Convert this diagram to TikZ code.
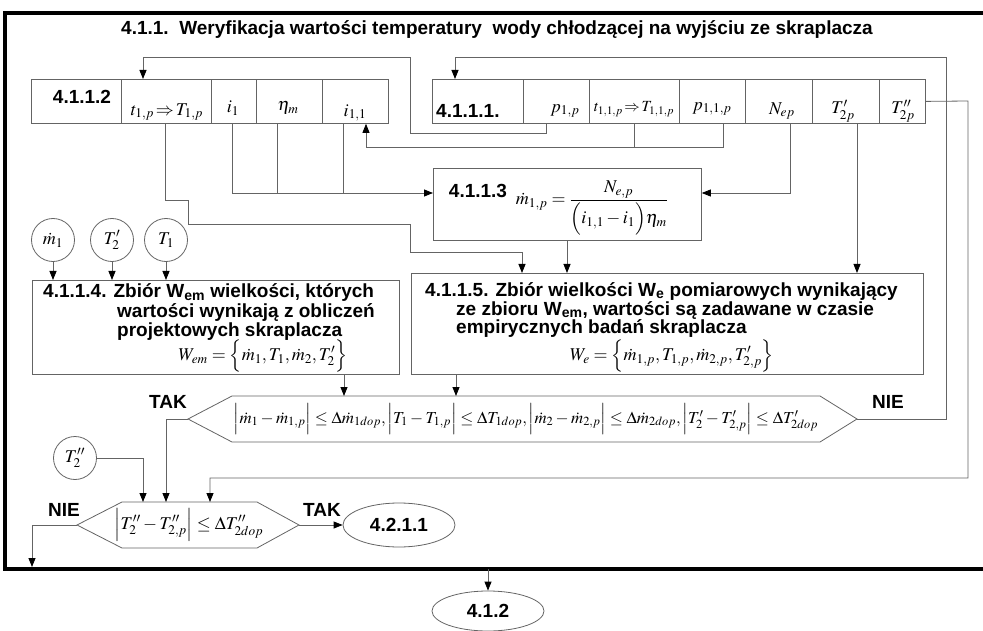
\documentclass[tikz,border=0pt]{standalone}
\usepackage{mathptmx}
\usepackage[no-math]{fontspec}
\setmainfont{Liberation Sans}
\usetikzlibrary{arrows.meta,calc,shapes.geometric}
\definecolor{lncol}{RGB}{100,100,100}
\tikzset{
  ln/.style={draw=lncol, line width=0.8pt},
  arr/.style={ln, -{Triangle[length=9pt,width=7pt,color=black]}},
  cell/.style={ln, anchor=north west, inner sep=0pt, minimum height=44pt},
  bx/.style={ln, anchor=north west, inner sep=0pt},
  lbl/.style={font=\fontsize{19}{21}\selectfont\bfseries, inner sep=0pt},
  txt/.style={font=\fontsize{19}{21}\selectfont\bfseries, inner sep=0pt, anchor=base west},
  mth/.style={font=\fontsize{18}{20}\selectfont, inner sep=0pt},
  circ/.style={ln, circle, minimum size=43pt, inner sep=0pt, font=\fontsize{18}{20}\selectfont},
  ell/.style={ln, ellipse, minimum width=112pt, minimum height=44pt, inner sep=0pt, font=\fontsize{19}{21}\selectfont\bfseries},
}
\begin{document}
\begin{tikzpicture}[x=1pt,y=-1pt]
\useasboundingbox (0,0) rectangle (983,631);
% frame
\draw[line width=3.5pt] (990,13) -- (5,13) -- (5,569) -- (990,569);
\node[lbl] (title) at (497,30) {4.1.1.\ \ Weryfikacja wartości temperatury\ \ wody chłodzącej na wyjściu ze skraplacza};
% box 4.1.1.2
\node[cell, minimum width=90pt] (c21) at (31,79) {};
\node[cell, minimum width=90pt] (c22) at (121,79) {};
\node[cell, minimum width=45pt] (c23) at (211,79) {};
\node[cell, minimum width=66pt] (c24) at (256,79) {};
\node[cell, minimum width=66pt] (c25) at (322,79) {};
\node[lbl] (t2a) at (82,97) {4.1.1.2};
\node[mth] (t2b) at (167,112) {$t_{1,p}\!\Rightarrow\! T_{1,p}$};
\node[mth] (t2c) at (233,108) {$i_1$};
\node[mth] (t2d) at (288,108) {$\eta_m$};
\node[mth] (t2e) at (355,113) {$i_{1,1}$};
% box 4.1.1.1
\node[cell, minimum width=91pt] (c11) at (432,79) {};
\node[cell, minimum width=66pt] (c12) at (523,79) {};
\node[cell, minimum width=90pt] (c13) at (589,79) {};
\node[cell, minimum width=66pt] (c14) at (679,79) {};
\node[cell, minimum width=67pt] (c15) at (745,79) {};
\node[cell, minimum width=67pt] (c16) at (812,79) {};
\node[cell, minimum width=46pt] (c17) at (879,79) {};
\node[lbl, anchor=west] (t1a) at (436,111) {4.1.1.1.};
\node[mth] (t1b) at (565,111) {$p_{1,p}$};
\node[mth, font=\fontsize{15.5}{18}\selectfont] (t1c) at (634,109) {$t_{1,1,p}\!\Rightarrow\! T_{1,1,p}$};
\node[mth] (t1d) at (712,109) {$p_{1,1,p}$};
\node[mth] (t1e) at (782,111) {$N_{ep}$};
\node[mth] (t1f) at (843,111) {$T'_{2p}$};
\node[mth] (t1g) at (903,111) {$T''_{2p}$};
% box 4.1.1.3
\node[bx, minimum width=268pt, minimum height=72pt] (b3) at (433,168) {};
\node[lbl] (t3a) at (478,191) {4.1.1.3};
\node[mth] (t3b) at (592,208) {$\dot m_{1,p}=\displaystyle\frac{N_{e,p}}{\Bigl(i_{1,1}-i_1\Bigr)\eta_m}$};
% circles
\node[circ] (m1) at (53,240) {$\dot m_1$};
\node[circ] (tp2) at (112,240) {$T'_2$};
\node[circ] (tt1) at (166,240) {$T_1$};
% box 4.1.1.4
\node[bx, minimum width=367pt, minimum height=94pt] (b4) at (32,280) {};
\node[txt] (t4a) at (43,298) {4.1.1.4. Zbiór W\textsubscript{em} wielkości, których};
\node[txt] (t4b) at (117,317) {wartości wynikają z obliczeń};
\node[txt] (t4c) at (117,336) {projektowych skraplacza};
\node[mth] (f4) at (263,356) {$W_{em}=\Bigl\{\dot m_1, T_1, \dot m_2, T'_2\Bigr\}$};
% box 4.1.1.5
\node[bx, minimum width=512pt, minimum height=101pt] (b5) at (411,273) {};
\node[txt] (t5a) at (425,296) {4.1.1.5. Zbiór wielkości W\textsubscript{e} pomiarowych wynikający};
\node[txt] (t5b) at (456,315) {ze zbioru W\textsubscript{em}, wartości są zadawane w czasie};
\node[txt] (t5c) at (456,334) {empirycznych badań skraplacza};
\node[mth] (f5) at (672,356) {$W_e=\Bigl\{\dot m_{1,p}, T_{1,p}, \dot m_{2,p}, T'_{2,p}\Bigr\}$};
% decision 1
\coordinate (d1l) at (188,419);
\coordinate (d1tl) at (232,396);
\coordinate (d1tr) at (820,396);
\coordinate (d1r) at (857,419);
\coordinate (d1br) at (820,442);
\coordinate (d1bl) at (232,442);
\draw[ln] (d1l) -- (d1tl) -- (d1tr) -- (d1r) -- (d1br) -- (d1bl) -- cycle;
\node[mth, font=\fontsize{16.8}{19}\selectfont] (d1) at (526,419) {$\Bigl|\dot m_1-\dot m_{1,p}\Bigr|\le\Delta\dot m_{1dop},\Bigl|T_1-T_{1,p}\Bigr|\le\Delta T_{1dop},\Bigl|\dot m_2-\dot m_{2,p}\Bigr|\le\Delta\dot m_{2dop},\Bigl|T'_2-T'_{2,p}\Bigr|\le\Delta T'_{2dop}$};
\node[lbl] (tak1) at (168,402) {TAK};
\node[lbl] (nie1) at (888,402) {NIE};
% decision 2
\coordinate (d2l) at (77,525);
\coordinate (d2tl) at (122,502);
\coordinate (d2tr) at (257,502);
\coordinate (d2r) at (299,525);
\coordinate (d2br) at (257,548);
\coordinate (d2bl) at (122,548);
\draw[ln] (d2l) -- (d2tl) -- (d2tr) -- (d2r) -- (d2br) -- (d2bl) -- cycle;
\node[mth] (d2) at (189,525) {$\Bigl|T''_2-T''_{2,p}\Bigr|\le\Delta T''_{2dop}$};
\node[lbl] (nie2) at (64,510) {NIE};
\node[lbl] (tak2) at (322,510) {TAK};
\node[circ] (tpp2) at (75,458) {$T''_2$};
\node[ell] (e421) at (399,525) {4.2.1.1};
\node[ell, minimum height=40pt] (e412) at (488,611) {4.1.2};
\coordinate (nieend) at (32,567);
\coordinate (fbot) at (488,569);
% connectors
\draw[arr] ($(c12.south west)+(23,0)$) -- (546,133) -- (410,133) -- (410,57) -- (143,57) -- ($(c22.north west)+(22,0)$);
\draw[arr] (d1r) -- (946,419) -- (946,57) -- (455,57) -- ($(c11.north west)+(23,0)$);
\draw[arr] (c17.east) -- (968,101) -- (968,478) -- (210,478) -- ($(d2tl)+(88,0)$);
\draw[ln] ($(c13.south west)+(45,0)$) -- (634,147);
\draw[arr] ($(c14.south west)+(44,0)$) -- (723,147) -- (366,147) -- ($(c25.south west)+(44,0)$);
\draw[arr] ($(c23.south west)+(21,0)$) -- (232,193) -- ($(b3.north west)+(0,25)$);
\draw[ln] ($(c24.south west)+(21,0)$) -- (277,193);
\draw[ln] ($(c25.south west)+(21,0)$) -- (343,193);
\draw[arr] ($(c15.south west)+(45,0)$) -- (790,193) -- ($(b3.north east)+(0,25)$);
\draw[arr] ($(c22.south west)+(44,0)$) -- (165,200) -- (188,200) -- (188,224) -- (410,224) -- (410,252) -- (522,252) -- ($(b5.north west)+(111,0)$);
\draw[arr] ($(b3.south west)+(134,0)$) -- ($(b5.north west)+(156,0)$);
\draw[arr] ($(c16.south west)+(45,0)$) -- ($(b5.north west)+(446,0)$);
\draw[arr] (m1) -- (m1 |- b4.north);
\draw[arr] (tp2) -- (tp2 |- b4.north);
\draw[arr] (tt1) -- (tt1 |- b4.north);
\draw[arr] ($(b4.south west)+(312,0)$) -- ($(d1tl)+(112,0)$);
\draw[arr] ($(b5.south west)+(45,0)$) -- ($(d1tl)+(224,0)$);
\draw[arr] (d1l) -- (166,419) -- ($(d2tl)+(44,0)$);
\draw[arr] (tpp2) -- (143,458) -- ($(d2tl)+(21,0)$);
\draw[arr] (d2r) -- (e421);
\draw[arr] (d2l) -- (32,525) -- (nieend);
\draw[arr] (fbot) -- (e412);
\end{tikzpicture}
\end{document}
